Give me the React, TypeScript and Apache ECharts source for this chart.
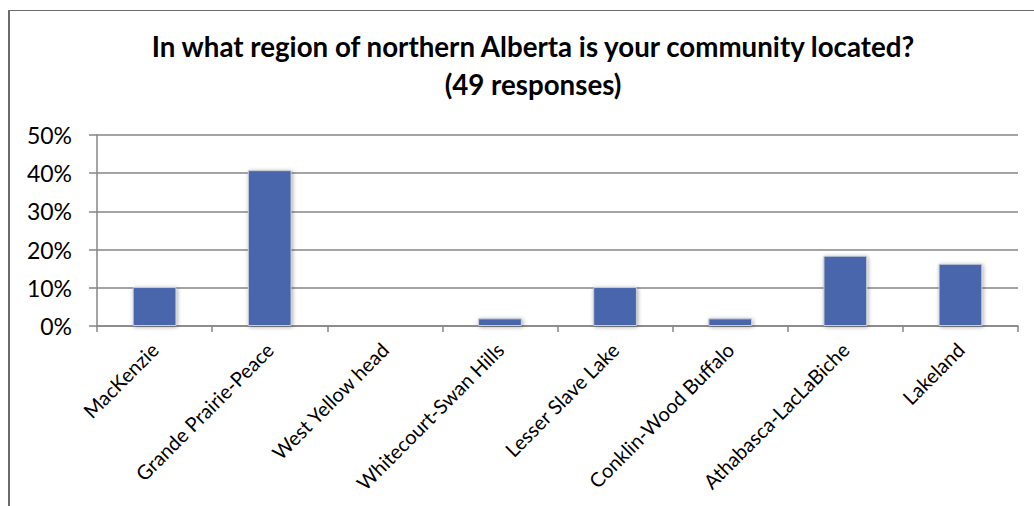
import React, { useEffect, useRef } from "react";
import * as echarts from "echarts";

const titleLines = ["In what region of northern Alberta is your community located?", "(49 responses)"];
const categories = [
  "MacKenzie",
  "Grande Prairie-Peace",
  "West Yellow head",
  "Whitecourt-Swan Hills",
  "Lesser Slave Lake",
  "Conklin-Wood Buffalo",
  "Athabasca-LacLaBiche",
  "Lakeland",
];
const percentValues = [10.2, 40.8, 0, 2.0, 10.2, 2.0, 18.4, 16.3];
const yTicks = [0, 10, 20, 30, 40, 50];

const FONT = "Lato";

export default function App() {
  const ref = useRef<HTMLDivElement>(null);
  useEffect(() => {
    if (!ref.current) return;
    const chart = echarts.init(ref.current, null, { renderer: "svg" });
    chart.setOption({
      animation: false,
      backgroundColor: "#ffffff",
      title: {
        text: titleLines.join("\n"),
        left: 528,
        top: 22,
        textAlign: "center",
        textStyle: {
          fontFamily: FONT,
          fontWeight: "bold",
          fontSize: 27.7,
          lineHeight: 38,
          color: "#000000",
        },
      },
      grid: { left: 97, right: 16, top: 135, bottom: 180, containLabel: false },
      xAxis: {
        type: "category",
        data: categories,
        axisLine: { lineStyle: { color: "#868686", width: 1.5 } },
        axisTick: { show: true, alignWithLabel: false, length: 6, lineStyle: { color: "#868686", width: 1.5 } },
        axisLabel: {
          rotate: 45,
          interval: 0,
          margin: 20,
          fontFamily: FONT,
          fontSize: 20,
          color: "#000000",
        },
      },
      yAxis: {
        type: "value",
        min: yTicks[0],
        max: yTicks[yTicks.length - 1],
        interval: 10,
        axisLine: { show: true, lineStyle: { color: "#868686", width: 1.5 } },
        axisTick: { show: true, inside: false, length: 8, lineStyle: { color: "#868686", width: 1.5 } },
        splitLine: { show: true, lineStyle: { color: "#868686", width: 1.5 } },
        axisLabel: {
          formatter: (v: number) => v + "%",
          fontFamily: FONT,
          fontSize: 23,
          margin: 25,
          color: "#000000",
        },
      },
      series: [
        {
          type: "bar",
          data: percentValues,
          barWidth: "38%",
          itemStyle: {
            color: "#4a66ac",
            borderColor: "#c8cdd8",
            borderWidth: 1,
            shadowBlur: 4,
            shadowColor: "rgba(0,0,0,0.35)",
            shadowOffsetX: 1,
            shadowOffsetY: 1,
          },
        },
      ],
      graphic: [
        { type: "line", shape: { x1: 8, y1: 10.5, x2: 1034, y2: 10.5 }, style: { stroke: "#6b6b6b", lineWidth: 1 } },
        { type: "line", shape: { x1: 9, y1: 10, x2: 9, y2: 506 }, style: { stroke: "#6b6b6b", lineWidth: 2 } },
      ],
    });
    return () => chart.dispose();
  }, []);
  return <div ref={ref} style={{ position: "absolute", left: 0, top: 0, width: 1034, height: 506 }} />;
}
